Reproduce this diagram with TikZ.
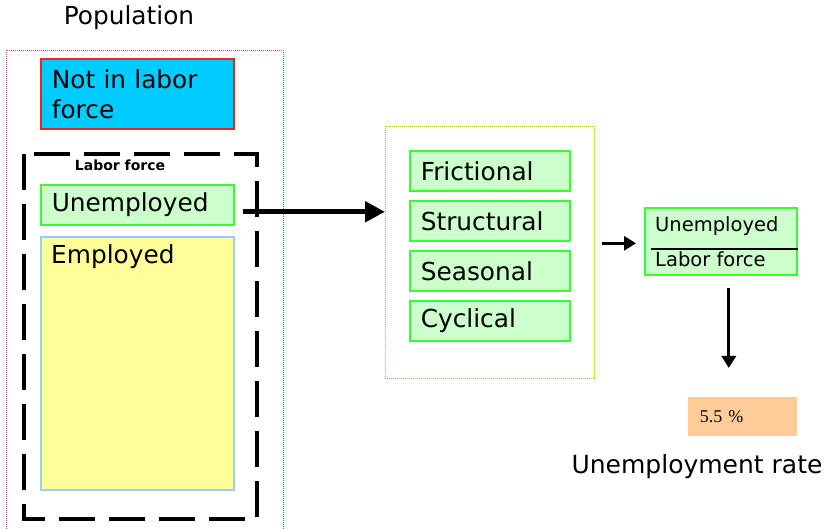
\documentclass[tikz,border=0pt]{standalone}
\usepackage{fontspec}
\setmainfont{DejaVu Sans}
\newfontfamily\pctfont{Liberation Serif}
\usetikzlibrary{arrows.meta,positioning}

\definecolor{nilcyan}{HTML}{00CCFF}
\definecolor{nilred}{HTML}{EE2222}
\definecolor{unempfill}{HTML}{CCFFCC}
\definecolor{unempline}{HTML}{33FF33}
\definecolor{emplfill}{HTML}{FFFF99}
\definecolor{emplline}{HTML}{99CCFF}
\definecolor{popline}{HTML}{B05080}
\definecolor{typeline}{HTML}{99CC00}
\definecolor{ratefill}{HTML}{FFCC99}

\tikzset{
  box/.style={anchor=north west, inner ysep=0pt, inner xsep=11pt, line width=1.6pt, align=left},
  greenbox/.style={box, fill=unempfill, draw=unempline, font=\fontsize{24.8}{28}\selectfont,
    minimum height=40pt, text width=#1},
  bigarrow/.style={line width=5pt, -{Triangle[length=20pt,width=20pt]}},
  smallarrow/.style={line width=3pt, -{Triangle[length=12pt,width=14pt]}},
}

\begin{document}
\begin{tikzpicture}[x=1pt,y=-1pt]
  \useasboundingbox (0,0) rectangle (825,529);

  % population
  \node[font=\fontsize{24.8}{28}\selectfont] (poptitle) at (129,18) {Population};
  \draw[popline, line width=0.8pt, dash pattern=on 1pt off 1pt]
    (6,529) -- (6,50) -- (283,50) -- (283,529);

  \node[box, fill=nilcyan, draw=nilred, minimum height=70pt, text width=171pt,
    font=\fontsize{24.8}{30}\selectfont] (nil) at (40,58) {Not in labor\\force};

  % labor force
  \draw[line width=4pt, dash pattern=on 36pt off 14pt] (24,154) rectangle (257,519);
  \node[font=\bfseries\fontsize{14}{16}\selectfont] (lflabel) at (120,165) {Labor force};

  \node[greenbox=171pt] (unemp) at (40,184) {Unemployed};
  \node[box, fill=emplfill, draw=emplline, minimum width=193pt, minimum height=253pt] (empl) at (40,236) {};
  \node[anchor=west, inner sep=0pt, font=\fontsize{24.8}{28}\selectfont] (empltxt) at (51,257) {Employed};

  % kinds of unemployment
  \draw[typeline, line width=0.8pt, dash pattern=on 1pt off 1pt] (385,126) rectangle (594,378);
  \coordinate (typesw) at (385,252);
  \coordinate (typese) at (594,252);
  \node[greenbox=138pt] (fric) at (409,150) {Frictional};
  \node[greenbox=138pt, below=8.5pt of fric.south west, anchor=north west] (struc) {Structural};
  \node[greenbox=138pt, below=8.5pt of struc.south west, anchor=north west] (seas) {Seasonal};
  \node[greenbox=138pt, below=8.5pt of seas.south west, anchor=north west] (cycl) {Cyclical};

  \draw[bigarrow, shorten <=8pt] ([yshift=-7pt]unemp.east) -- ([yshift=-7pt]unemp.east -| typesw);

  % rate
  \node[box, fill=unempfill, draw=unempline, minimum width=152pt, minimum height=67pt] (frac) at (644,207) {};
  \node[anchor=west, inner sep=0pt, font=\fontsize{19.5}{22}\selectfont] (fracnum) at (655,226) {Unemployed};
  \node[anchor=west, inner sep=0pt, font=\fontsize{19.5}{22}\selectfont] (fracden) at (655,259) {Labor force};
  \draw[line width=1.5pt] (651,249) -- (frac.east |- 0,249);

  \draw[smallarrow, shorten <=8pt, shorten >=8pt] ([yshift=-2pt]frac.west -| typese) -- ([yshift=-2pt]frac.west);

  \node[box, fill=ratefill, inner xsep=12pt, minimum width=109pt, minimum height=39pt, text width=85pt,
    font=\pctfont\fontsize{18}{21}\selectfont] (rate) at (687,396) {5.5 \%};
  \coordinate (downend) at ([xshift=8pt]frac.south |- 0,368);
  \draw[smallarrow, shorten <=12pt] ([xshift=8pt]frac.south) -- (downend);

  \node[font=\fontsize{25}{28}\selectfont] (ratetitle) at (697,467) {Unemployment rate};
\end{tikzpicture}
\end{document}
